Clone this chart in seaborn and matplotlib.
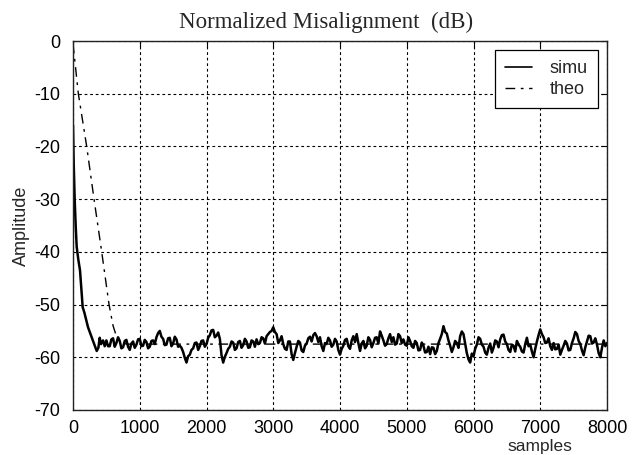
import numpy as np
import pandas as pd
import matplotlib
matplotlib.use('Agg')
import matplotlib.pyplot as plt
import seaborn as sns

# simulated misalignment (dB)
simu_x_start = [0, 5, 10, 25, 40, 55, 80, 105, 125, 145, 170, 200, 225, 260,
                290, 320, 355, 380, 400, 420, 450, 475]
simu_y_start = [-16, -20, -23, -30, -35, -39, -41.5, -43.5, -47, -50.5, -51.5,
                -53, -54.3, -55.5, -56.5, -57.5, -58.8, -58.2, -56.3, -57.5, -56.8,
                -57.9]
# values at 500, 550, ... 8000
simu_x_even = list(range(500, 8001, 50))
simu_y_even = [
    -56.8, -57.9, -56.4, -57.3, -56.9, -58.1, -56.7, -58.6, -57.0, -57.6,   # 500-950
    -56.5, -57.8, -57.1, -58.0, -56.8, -56.2, -55.0, -56.5, -57.6, -56.3,   # 1000-1450
    -57.4, -56.6, -57.8, -59.0, -61.0, -59.5, -58.3, -57.2, -57.9, -56.8,   # 1500-1950
    -57.5, -55.8, -54.8, -55.9, -56.5, -61.0, -59.2, -58.0, -57.2, -58.3,   # 2000-2450
    -56.9, -57.7, -57.0, -58.1, -57.0, -56.6, -57.3, -56.4, -56.0, -55.2,   # 2500-2950
    -54.3, -55.6, -56.8, -57.5, -58.6, -57.0, -60.5, -58.0, -57.2, -59.0,   # 3000-3450
    -57.4, -56.1, -55.8, -56.0, -56.2, -58.8, -57.5, -56.8, -57.6, -57.0,   # 3500-3950
    -59.5, -57.8, -56.5, -58.4, -56.0, -55.6, -58.8, -56.9, -57.8, -56.7,   # 4000-4450
    -57.3, -56.2, -55.1, -56.8, -57.5, -55.6, -56.2, -57.4, -56.0, -56.6,   # 4500-4950
    -57.8, -56.9, -58.2, -57.3, -58.6, -57.8, -59.0, -59.4, -58.2, -58.8,   # 5000-5450
    -56.5, -54.1, -55.5, -57.8, -58.1, -57.3, -56.0, -55.6, -59.2, -61.0,   # 5500-5950
    -59.8, -57.6, -56.5, -58.0, -59.5, -57.4, -58.2, -57.0, -56.6, -55.7,   # 6000-6450
    -57.5, -59.0, -57.8, -56.9, -58.0, -59.1, -56.3, -57.6, -60.0, -57.0,   # 6500-6950
    -54.7, -56.2, -57.2, -57.9, -57.3, -58.4, -59.5, -57.8, -57.4, -58.6,   # 7000-7450
    -56.4, -55.6, -57.5, -59.6, -57.0, -56.0, -57.2, -57.6, -60.0, -56.8,   # 7500-7950
    -57.3,                                                                  # 8000
]
# values at 525, 575, ... 7975
simu_x_odd = list(range(525, 8000, 50))
simu_y_odd = [
    -57.9, -56.6, -58.0, -56.2, -58.3, -56.9, -58.0, -57.4, -58.2, -56.6,   # 525-975
    -57.9, -56.7, -58.3, -56.9, -57.5, -55.4, -56.1, -57.7, -56.4, -57.9,   # 1025-1475
    -56.1, -58.0, -58.2, -60.1, -59.8, -58.6, -57.3, -58.6, -56.9, -58.0,   # 1525-1975
    -56.3, -54.9, -56.2, -55.3, -59.6, -59.9, -58.4, -57.0, -58.6, -57.1,   # 2025-2475
    -58.2, -56.5, -58.2, -56.8, -58.0, -57.5, -56.2, -57.4, -55.6, -55.0,   # 2525-2975
    -55.2, -57.3, -56.0, -58.4, -57.0, -59.4, -59.2, -56.9, -58.7, -57.8,   # 3025-3475
    -56.4, -57.0, -55.4, -57.1, -57.9, -57.3, -56.3, -58.0, -56.5, -58.6,   # 3525-3975
    -58.4, -56.7, -57.9, -56.8, -57.1, -57.3, -57.4, -58.3, -56.2, -58.1,   # 4025-4475
    -56.3, -57.4, -55.9, -57.8, -56.4, -57.1, -57.6, -55.6, -57.3, -57.6,   # 4525-4975
    -56.2, -57.9, -56.9, -58.7, -57.2, -59.1, -58.0, -58.1, -59.4, -57.3,   # 5025-5475
    -55.6, -55.2, -56.8, -59.0, -56.9, -58.2, -55.1, -57.4, -60.4, -59.3,   # 5525-5975
    -58.4, -56.2, -57.6, -59.1, -58.2, -59.1, -56.8, -58.1, -55.8, -57.0,   # 6025-6475
    -58.6, -57.6, -58.9, -57.6, -58.9, -57.5, -57.9, -58.9, -58.4, -55.8,   # 6525-6975
    -55.6, -57.3, -56.4, -58.6, -58.5, -57.6, -58.6, -56.9, -58.7, -57.3,   # 7025-7475
    -55.2, -56.9, -58.7, -58.1, -55.9, -57.4, -56.4, -59.2, -58.2, -57.9,   # 7525-7975
]
simu_x = simu_x_start + simu_x_even + simu_x_odd
simu_y = simu_y_start + simu_y_even + simu_y_odd

# theoretical curve
theo_x = [0, 80, 205, 315, 430, 540, 600, 650, 700, 800, 8000]
theo_y = [-0.5, -10, -20, -30, -40, -50, -54, -56, -57, -57.5, -57.5]

xticks = list(range(0, 8001, 1000))
yticks = list(range(-70, 1, 10))

sns.set_style('white')
plt.rcParams['font.family'] = ['Liberation Sans', 'DejaVu Sans']
plt.rcParams['axes.unicode_minus'] = False

fig = plt.figure(figsize=(6.34, 4.55), dpi=100)
ax = fig.add_axes([73 / 634, 1 - 410 / 455, (607 - 73) / 634, (410 - 41) / 455])

simu_df = pd.DataFrame({'x': simu_x, 'y': simu_y}).sort_values('x')
theo_df = pd.DataFrame({'x': theo_x, 'y': theo_y})

sns.lineplot(data=theo_df, x='x', y='y', ax=ax, color='black', lw=1.0,
             label='theo', sort=False)
ax.lines[-1].set_dashes((7, 4, 2, 4))
sns.lineplot(data=simu_df, x='x', y='y', ax=ax, color='black', lw=1.8,
             label='simu', sort=False)

ax.set_xlim(0, 8000)
ax.set_ylim(-70, 0)
ax.set_xticks(xticks)
ax.set_yticks(yticks)
ax.set_xlabel('')
ax.set_ylabel('Amplitude', fontsize=13, labelpad=3)
ax.tick_params(direction='in', length=4, width=0.8, top=True, right=True,
               labelsize=13, colors='black')
ax.tick_params(axis='x', pad=7)
ax.tick_params(axis='y', pad=9)
ax.grid(True, color='black', linestyle=(0, (2.5, 2.5)), linewidth=0.8)
for s in ax.spines.values():
    s.set_color('#222222')
    s.set_linewidth(1.0)

ax.text(0.875, -0.1, 'samples', transform=ax.transAxes, ha='center',
        va='center', fontsize=12.5)
fig.text(326 / 634, 1 - 28 / 455, 'Normalized Misalignment  (dB)',
         ha='center', va='baseline', fontsize=16.5, family='Liberation Serif')

handles, labels = ax.get_legend_handles_labels()
order = [labels.index('simu'), labels.index('theo')]
leg = ax.legend([handles[i] for i in order], [labels[i] for i in order],
                loc='upper right', fontsize=13, frameon=True, fancybox=False,
                edgecolor='black', framealpha=1, handlelength=1.5,
                handletextpad=1.0, labelspacing=0.25, borderpad=0.55,
                borderaxespad=0.5)
leg.get_frame().set_linewidth(0.9)
leg.get_lines()[0].set_linewidth(1.2)

fig.savefig('out.png', dpi=100)
